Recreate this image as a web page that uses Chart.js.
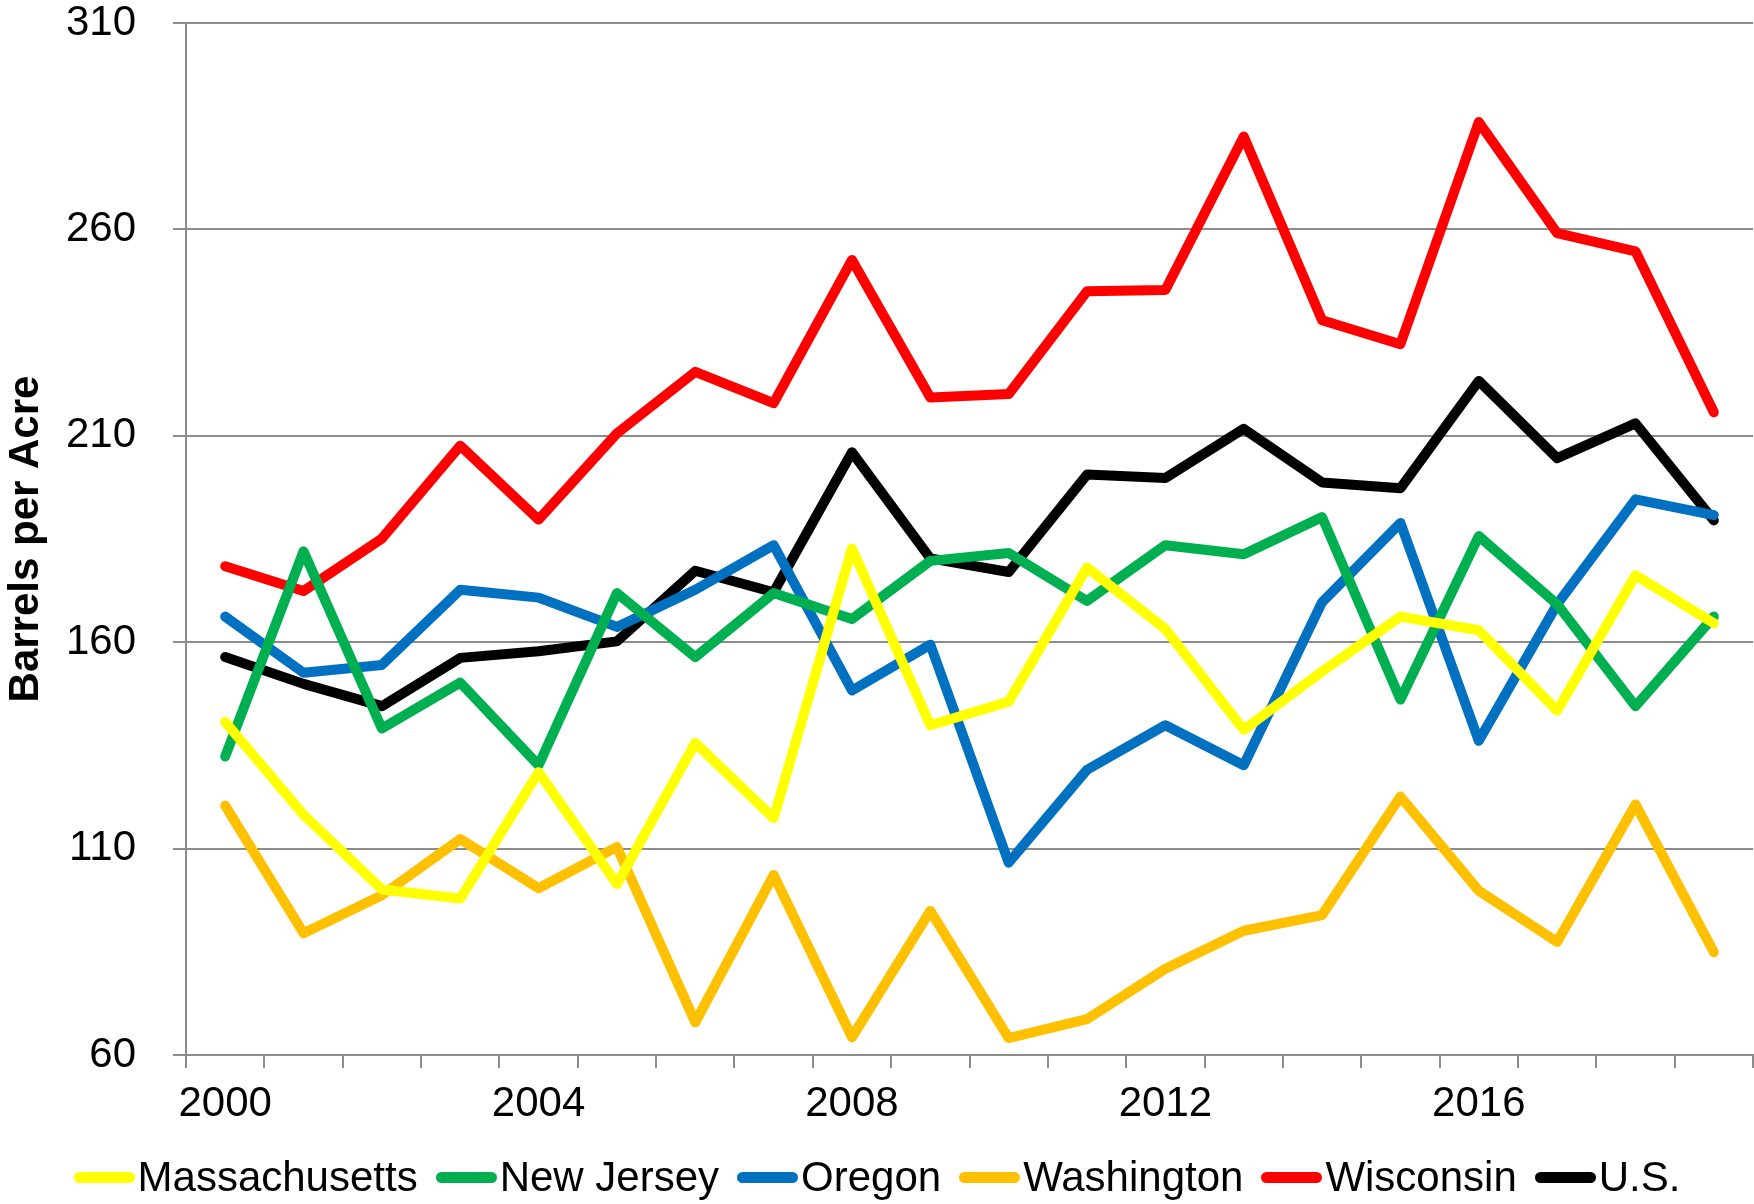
<!DOCTYPE html>
<html><head><meta charset="utf-8">
<script src="https://cdn.jsdelivr.net/npm/chart.js@4/dist/chart.umd.min.js"></script>
<style>
html,body{margin:0;padding:0;background:#fff;}
#wrap{position:relative;width:1754px;height:1204px;}
canvas{display:block}
#legend{position:absolute;left:0;top:1152px;width:1754px;height:50px;display:flex;justify-content:center;align-items:center;font-family:"Liberation Sans",Arial,sans-serif;font-size:42px;color:#000;line-height:50px;white-space:nowrap;}
.item{display:flex;align-items:center;margin:0 9px;}
.swatch{width:61px;height:11px;border-radius:5.5px;margin-right:3px;}
</style></head>
<body><div id="wrap"><canvas id="c" width="1754" height="1204"></canvas><div id="legend"></div></div>
<script>
const years = ['2000','2001','2002','2003','2004','2005','2006','2007','2008','2009','2010','2011','2012','2013','2014','2015','2016','2017','2018','2019'];
const xTickLabels = ['2000','2004','2008','2012','2016'];
const yTicks = [60,110,160,210,260,310];
const seriesNames = ['Massachusetts','New Jersey','Oregon','Washington','Wisconsin','U.S.'];
const seriesColors = ['#FFFF00','#00B050','#0070C0','#FFC000','#FF0000','#000000'];
const massachusetts = [140.7,118.2,100.1,97.9,128.5,101.4,135.6,117.4,182.7,139.9,145.6,178.1,163.2,138.8,152.9,166.2,162.9,143.4,176.2,164.6];
const newJersey = [132.3,182.0,139.1,150.2,130.2,171.9,156.4,171.9,165.6,179.7,181.6,170.0,183.5,181.3,190.3,146.1,185.7,169.2,144.5,166.2];
const oregon = [166.2,152.6,154.5,172.7,170.8,163.7,172.7,183.5,148.3,159.4,106.6,129.1,139.9,130.2,169.7,188.9,136.1,169.2,194.6,190.8];
const washington = [120.4,89.5,98.7,112.3,100.4,110.4,67.9,103.6,64.3,94.9,64.1,68.7,80.9,90.1,93.9,122.6,99.8,87.4,120.7,84.9];
const wisconsin = [178.4,172.4,185.1,207.6,189.7,210.6,225.5,217.9,252.6,219.3,220.1,245.0,245.3,282.5,238.0,232.2,286.0,259.1,254.7,215.7];
const us = [156.4,149.9,144.5,156.2,157.8,160.2,177.3,172.1,206.0,180.3,177.0,200.6,199.8,211.7,198.7,197.3,223.3,204.6,213.0,189.5];
const seriesData = [massachusetts,newJersey,oregon,washington,wisconsin,us];

Chart.defaults.font.family = '"Liberation Sans", Arial, sans-serif';
const gridColor = '#8c8c8c';

const chart = new Chart(document.getElementById('c'), {
  type: 'line',
  data: {
    labels: years,
    datasets: seriesNames.map((n, i) => ({
      label: n,
      data: seriesData[i],
      borderColor: seriesColors[i],
      backgroundColor: seriesColors[i],
      borderWidth: 10,
      borderJoinStyle: 'round',
      borderCapStyle: 'round',
      pointRadius: 0,
      tension: 0,
      fill: false
    }))
  },
  options: {
    responsive: false,
    animation: false,
    layout: { padding: { top: 23, right: 1, left: 0, bottom: 0 } },
    plugins: { legend: { display: false }, tooltip: { enabled: false } },
    scales: {
      x: {
        type: 'category',
        offset: true,
        grid: { offset: true, drawOnChartArea: false, drawTicks: true, tickLength: 13, color: gridColor, lineWidth: 2 },
        border: { color: gridColor, width: 2 },
        ticks: {
          autoSkip: false, maxRotation: 0, minRotation: 0, padding: 15, color: '#000',
          font: { size: 42, lineHeight: 1 },
          callback: function (v) { const l = this.getLabelForValue(v); return xTickLabels.includes(l) ? l : ''; }
        },
        afterFit(s) { s.height = 149; s.paddingLeft = 0; s.paddingRight = 0; }
      },
      y: {
        min: yTicks[0], max: yTicks[yTicks.length - 1],
        afterBuildTicks(s) { s.ticks = yTicks.map(v => ({ value: v })); },
        ticks: { padding: 37, color: '#000', font: { size: 42, lineHeight: 1 } },
        grid: { color: gridColor, lineWidth: 2, tickLength: 13 },
        border: { color: gridColor, width: 2 },
        title: { display: true, text: 'Barrels per Acre', color: '#000', font: { size: 42, weight: 'bold', lineHeight: 1 }, padding: { top: 5, bottom: 0 } },
        afterFit(s) { s.width = 186; s.paddingTop = 0; s.paddingBottom = 0; }
      }
    }
  }
});

const legend = document.getElementById('legend');
chart.data.datasets.forEach(ds => {
  const item = document.createElement('div');
  item.className = 'item';
  const sw = document.createElement('span');
  sw.className = 'swatch';
  sw.style.background = ds.borderColor;
  const tx = document.createElement('span');
  tx.textContent = ds.label;
  item.appendChild(sw); item.appendChild(tx);
  legend.appendChild(item);
});
</script>
</body></html>
